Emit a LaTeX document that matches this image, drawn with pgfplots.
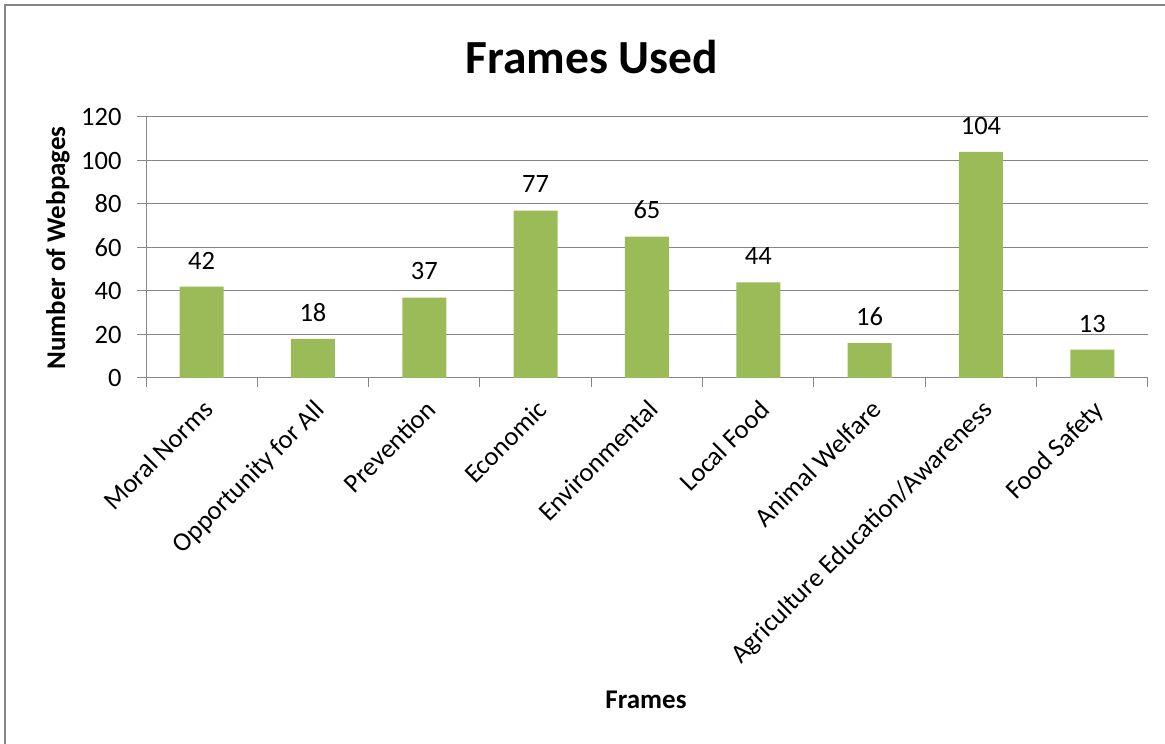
\documentclass[border=0pt]{standalone}
\usepackage{fontspec}
\setmainfont{Carlito}
\usepackage{pgfplots}
\pgfplotsset{compat=1.18}
\definecolor{barg}{HTML}{9BBB59}
\definecolor{gridg}{HTML}{868686}
\newcommand{\tf}{\fontsize{26.5}{30}\selectfont}
\begin{document}
\begin{tikzpicture}[x=1pt,y=1pt]
\path[use as bounding box] (0,0) rectangle (1165,744);
\draw[gridg, line width=2.5pt] (5,-10) -- (5,739) -- (1175,739);
\node[font=\fontsize{47.5}{54}\selectfont\bfseries] at (592,687) {Frames Used};
\node[font=\fontsize{27}{31}\selectfont\bfseries] at (646,44) {Frames};
\node[font=\fontsize{27}{31}\selectfont\bfseries, rotate=90] at (58,496) {Number of Webpages};
\begin{axis}[at={(146pt,366pt)}, anchor=south west, scale only axis,
  width=1002pt, height=261pt,
  ymin=0, ymax=120, ytick={0,20,...,120},
  xmin=-0.5, xmax=8.5, xtick={0,...,8},
  xticklabels={Moral Norms,Opportunity for All,Prevention,Economic,Environmental,Local Food,Animal Welfare,Agriculture Education/Awareness,Food Safety},
  minor xtick={-0.5,0.5,...,8.5},
  major x tick style={draw=none},
  minor tick length=9pt, major tick length=9pt,
  tick align=outside, tick pos=left,
  ymajorgrids, grid style={gridg, line width=1pt},
  axis line style={gridg, line width=1pt},
  tick style={gridg, line width=1pt},
  axis x line*=bottom, axis y line*=left,
  x tick label style={rotate=45, anchor=north east, font=\tf, inner sep=2pt, yshift=-6pt, xshift=-6pt},
  y tick label style={font=\tf},
  /pgf/number format/assume math mode=true,
  yticklabel style={xshift=-12pt},
]
\addplot[ybar, bar width=44pt, fill=barg, draw=none,
  nodes near coords, every node near coord/.append style={font=\tf, black, yshift=14pt}]
  coordinates {(0,42) (1,18) (2,37) (3,77) (4,65) (5,44) (6,16) (7,104) (8,13)};
\end{axis}
\end{tikzpicture}
\end{document}
